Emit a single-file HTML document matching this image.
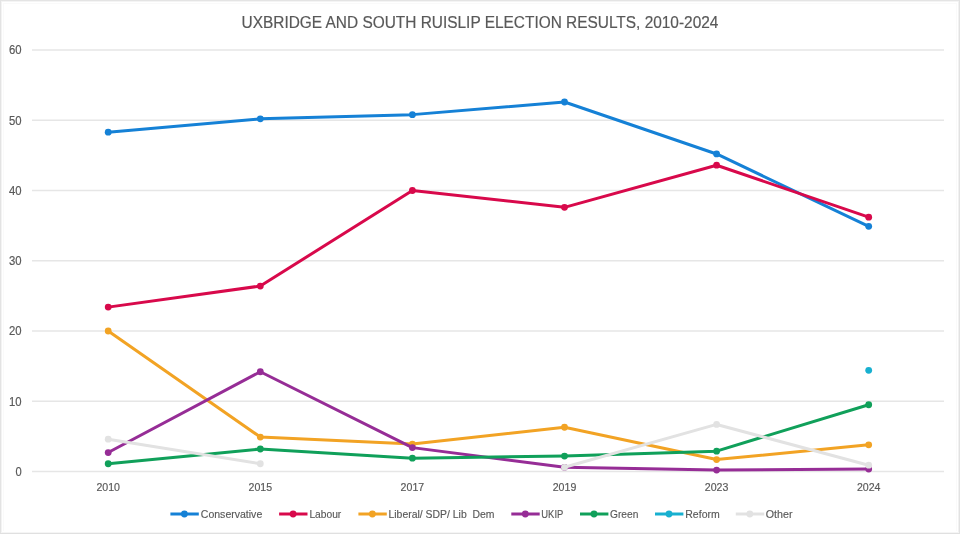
<!DOCTYPE html><html><head><meta charset="utf-8"><style>html,body{margin:0;padding:0;background:#fff;}svg{display:block;will-change:transform;}</style></head><body>
<svg width="960" height="534" viewBox="0 0 960 534">
<rect x="0" y="0" width="960" height="534" fill="#fff"/>
<rect x="3" y="3" width="954" height="1" fill="#FAFAFA"/><rect x="3" y="3" width="1" height="528" fill="#FAFAFA"/><rect x="956" y="3" width="1" height="528" fill="#FAFAFA"/>
<rect x="0" y="1" width="960" height="1" fill="#F4F4F4"/><rect x="1" y="0" width="1" height="534" fill="#F3F3F3"/><rect x="958" y="0" width="1" height="534" fill="#F1F1F1"/><rect x="0" y="532" width="960" height="1" fill="#F5F5F5"/>
<rect x="0" y="0" width="960" height="1" fill="#E4E4E4"/><rect x="0" y="0" width="1" height="534" fill="#E3E3E3"/><rect x="959" y="0" width="1" height="534" fill="#E2E2E2"/><rect x="0" y="533" width="960" height="1" fill="#E0E0E0"/>
<line x1="32" y1="471.50" x2="944" y2="471.50" stroke="#E6E6E6" stroke-width="1.5"/>
<line x1="32" y1="401.25" x2="944" y2="401.25" stroke="#E6E6E6" stroke-width="1.5"/>
<line x1="32" y1="331.00" x2="944" y2="331.00" stroke="#E6E6E6" stroke-width="1.5"/>
<line x1="32" y1="260.75" x2="944" y2="260.75" stroke="#E6E6E6" stroke-width="1.5"/>
<line x1="32" y1="190.50" x2="944" y2="190.50" stroke="#E6E6E6" stroke-width="1.5"/>
<line x1="32" y1="120.25" x2="944" y2="120.25" stroke="#E6E6E6" stroke-width="1.5"/>
<line x1="32" y1="50.00" x2="944" y2="50.00" stroke="#E6E6E6" stroke-width="1.5"/>
<text x="241.6" y="27.8" font-family='"Liberation Sans", sans-serif' font-size="17.2" fill="#595959" stroke="#595959" stroke-width="0.2" textLength="476.8" lengthAdjust="spacingAndGlyphs">UXBRIDGE AND SOUTH RUISLIP ELECTION RESULTS, 2010-2024</text>
<text x="15.40" y="475.80" font-family='"Liberation Sans", sans-serif' font-size="12.2" fill="#595959" stroke="#595959" stroke-width="0.18" textLength="6.2" lengthAdjust="spacingAndGlyphs">0</text>
<text x="9.00" y="405.55" font-family='"Liberation Sans", sans-serif' font-size="12.2" fill="#595959" stroke="#595959" stroke-width="0.18" textLength="12.6" lengthAdjust="spacingAndGlyphs">10</text>
<text x="9.00" y="335.30" font-family='"Liberation Sans", sans-serif' font-size="12.2" fill="#595959" stroke="#595959" stroke-width="0.18" textLength="12.6" lengthAdjust="spacingAndGlyphs">20</text>
<text x="9.00" y="265.05" font-family='"Liberation Sans", sans-serif' font-size="12.2" fill="#595959" stroke="#595959" stroke-width="0.18" textLength="12.6" lengthAdjust="spacingAndGlyphs">30</text>
<text x="9.00" y="194.80" font-family='"Liberation Sans", sans-serif' font-size="12.2" fill="#595959" stroke="#595959" stroke-width="0.18" textLength="12.6" lengthAdjust="spacingAndGlyphs">40</text>
<text x="9.00" y="124.55" font-family='"Liberation Sans", sans-serif' font-size="12.2" fill="#595959" stroke="#595959" stroke-width="0.18" textLength="12.6" lengthAdjust="spacingAndGlyphs">50</text>
<text x="9.00" y="54.30" font-family='"Liberation Sans", sans-serif' font-size="12.2" fill="#595959" stroke="#595959" stroke-width="0.18" textLength="12.6" lengthAdjust="spacingAndGlyphs">60</text>
<text x="96.40" y="491" font-family='"Liberation Sans", sans-serif' font-size="11.5" fill="#595959" stroke="#595959" stroke-width="0.18" textLength="23.6" lengthAdjust="spacingAndGlyphs">2010</text>
<text x="248.50" y="491" font-family='"Liberation Sans", sans-serif' font-size="11.5" fill="#595959" stroke="#595959" stroke-width="0.18" textLength="23.6" lengthAdjust="spacingAndGlyphs">2015</text>
<text x="400.60" y="491" font-family='"Liberation Sans", sans-serif' font-size="11.5" fill="#595959" stroke="#595959" stroke-width="0.18" textLength="23.6" lengthAdjust="spacingAndGlyphs">2017</text>
<text x="552.70" y="491" font-family='"Liberation Sans", sans-serif' font-size="11.5" fill="#595959" stroke="#595959" stroke-width="0.18" textLength="23.6" lengthAdjust="spacingAndGlyphs">2019</text>
<text x="704.80" y="491" font-family='"Liberation Sans", sans-serif' font-size="11.5" fill="#595959" stroke="#595959" stroke-width="0.18" textLength="23.6" lengthAdjust="spacingAndGlyphs">2023</text>
<text x="856.90" y="491" font-family='"Liberation Sans", sans-serif' font-size="11.5" fill="#595959" stroke="#595959" stroke-width="0.18" textLength="23.6" lengthAdjust="spacingAndGlyphs">2024</text>
<g>
<path d="M108.20,132.19 L260.30,118.84 L412.40,114.63 L564.50,101.98 L716.60,153.97 L868.70,226.33" fill="none" stroke="#1581D6" stroke-width="3.0" stroke-linejoin="round" stroke-linecap="round"/>
<circle cx="108.20" cy="132.19" r="3.4" fill="#1581D6"/>
<circle cx="260.30" cy="118.84" r="3.4" fill="#1581D6"/>
<circle cx="412.40" cy="114.63" r="3.4" fill="#1581D6"/>
<circle cx="564.50" cy="101.98" r="3.4" fill="#1581D6"/>
<circle cx="716.60" cy="153.97" r="3.4" fill="#1581D6"/>
<circle cx="868.70" cy="226.33" r="3.4" fill="#1581D6"/>
</g>
<g>
<path d="M108.20,307.12 L260.30,286.04 L412.40,190.50 L564.50,207.36 L716.60,165.21 L868.70,217.19" fill="none" stroke="#D8094B" stroke-width="3.0" stroke-linejoin="round" stroke-linecap="round"/>
<circle cx="108.20" cy="307.12" r="3.4" fill="#D8094B"/>
<circle cx="260.30" cy="286.04" r="3.4" fill="#D8094B"/>
<circle cx="412.40" cy="190.50" r="3.4" fill="#D8094B"/>
<circle cx="564.50" cy="207.36" r="3.4" fill="#D8094B"/>
<circle cx="716.60" cy="165.21" r="3.4" fill="#D8094B"/>
<circle cx="868.70" cy="217.19" r="3.4" fill="#D8094B"/>
</g>
<g>
<path d="M108.20,331.00 L260.30,437.08 L412.40,444.10 L564.50,427.24 L716.60,459.56 L868.70,444.81" fill="none" stroke="#F2A324" stroke-width="3.0" stroke-linejoin="round" stroke-linecap="round"/>
<circle cx="108.20" cy="331.00" r="3.4" fill="#F2A324"/>
<circle cx="260.30" cy="437.08" r="3.4" fill="#F2A324"/>
<circle cx="412.40" cy="444.10" r="3.4" fill="#F2A324"/>
<circle cx="564.50" cy="427.24" r="3.4" fill="#F2A324"/>
<circle cx="716.60" cy="459.56" r="3.4" fill="#F2A324"/>
<circle cx="868.70" cy="444.81" r="3.4" fill="#F2A324"/>
</g>
<g>
<path d="M108.20,452.53 L260.30,371.75 L412.40,447.62 L564.50,467.29 L716.60,470.10 L868.70,469.04" fill="none" stroke="#962D96" stroke-width="3.0" stroke-linejoin="round" stroke-linecap="round"/>
<circle cx="108.20" cy="452.53" r="3.4" fill="#962D96"/>
<circle cx="260.30" cy="371.75" r="3.4" fill="#962D96"/>
<circle cx="412.40" cy="447.62" r="3.4" fill="#962D96"/>
<circle cx="564.50" cy="467.29" r="3.4" fill="#962D96"/>
<circle cx="716.60" cy="470.10" r="3.4" fill="#962D96"/>
<circle cx="868.70" cy="469.04" r="3.4" fill="#962D96"/>
</g>
<g>
<path d="M108.20,463.77 L260.30,449.02 L412.40,458.15 L564.50,456.05 L716.60,451.13 L868.70,404.76" fill="none" stroke="#10A05A" stroke-width="3.0" stroke-linejoin="round" stroke-linecap="round"/>
<circle cx="108.20" cy="463.77" r="3.4" fill="#10A05A"/>
<circle cx="260.30" cy="449.02" r="3.4" fill="#10A05A"/>
<circle cx="412.40" cy="458.15" r="3.4" fill="#10A05A"/>
<circle cx="564.50" cy="456.05" r="3.4" fill="#10A05A"/>
<circle cx="716.60" cy="451.13" r="3.4" fill="#10A05A"/>
<circle cx="868.70" cy="404.76" r="3.4" fill="#10A05A"/>
</g>
<g>
<circle cx="868.70" cy="370.34" r="3.4" fill="#18B0D0"/>
</g>
<g>
<path d="M108.20,439.19 L260.30,463.77" fill="none" stroke="#E2E2E2" stroke-width="3.0" stroke-linejoin="round" stroke-linecap="round"/>
<path d="M564.50,467.29 L716.60,424.43 L868.70,465.18" fill="none" stroke="#E2E2E2" stroke-width="3.0" stroke-linejoin="round" stroke-linecap="round"/>
<circle cx="108.20" cy="439.19" r="3.4" fill="#E2E2E2"/>
<circle cx="260.30" cy="463.77" r="3.4" fill="#E2E2E2"/>
<circle cx="564.50" cy="467.29" r="3.4" fill="#E2E2E2"/>
<circle cx="716.60" cy="424.43" r="3.4" fill="#E2E2E2"/>
<circle cx="868.70" cy="465.18" r="3.4" fill="#E2E2E2"/>
</g>
<line x1="170.40" y1="514" x2="198.80" y2="514" stroke="#1581D6" stroke-width="3.0"/>
<circle cx="184.40" cy="514" r="3.4" fill="#1581D6"/>
<text x="200.80" y="517.80" font-family='"Liberation Sans", sans-serif' font-size="11" fill="#595959" stroke="#595959" stroke-width="0.15" textLength="61.45" lengthAdjust="spacingAndGlyphs" xml:space="preserve">Conservative</text>
<line x1="279.10" y1="514" x2="307.50" y2="514" stroke="#D8094B" stroke-width="3.0"/>
<circle cx="293.10" cy="514" r="3.4" fill="#D8094B"/>
<text x="309.40" y="517.80" font-family='"Liberation Sans", sans-serif' font-size="11" fill="#595959" stroke="#595959" stroke-width="0.15" textLength="31.85" lengthAdjust="spacingAndGlyphs" xml:space="preserve">Labour</text>
<line x1="358.40" y1="514" x2="386.80" y2="514" stroke="#F2A324" stroke-width="3.0"/>
<circle cx="372.40" cy="514" r="3.4" fill="#F2A324"/>
<text x="388.50" y="517.80" font-family='"Liberation Sans", sans-serif' font-size="11" fill="#595959" stroke="#595959" stroke-width="0.15" textLength="106.00" lengthAdjust="spacingAndGlyphs" xml:space="preserve">Liberal/ SDP/ Lib&#160; Dem</text>
<line x1="511.30" y1="514" x2="539.70" y2="514" stroke="#962D96" stroke-width="3.0"/>
<circle cx="525.30" cy="514" r="3.4" fill="#962D96"/>
<text x="541.30" y="517.80" font-family='"Liberation Sans", sans-serif' font-size="11" fill="#595959" stroke="#595959" stroke-width="0.15" textLength="22.00" lengthAdjust="spacingAndGlyphs" xml:space="preserve">UKIP</text>
<line x1="580.00" y1="514" x2="608.40" y2="514" stroke="#10A05A" stroke-width="3.0"/>
<circle cx="594.00" cy="514" r="3.4" fill="#10A05A"/>
<text x="610.00" y="517.80" font-family='"Liberation Sans", sans-serif' font-size="11" fill="#595959" stroke="#595959" stroke-width="0.15" textLength="28.30" lengthAdjust="spacingAndGlyphs" xml:space="preserve">Green</text>
<line x1="655.00" y1="514" x2="683.40" y2="514" stroke="#18B0D0" stroke-width="3.0"/>
<circle cx="669.00" cy="514" r="3.4" fill="#18B0D0"/>
<text x="685.30" y="517.80" font-family='"Liberation Sans", sans-serif' font-size="11" fill="#595959" stroke="#595959" stroke-width="0.15" textLength="34.40" lengthAdjust="spacingAndGlyphs" xml:space="preserve">Reform</text>
<line x1="735.80" y1="514" x2="764.20" y2="514" stroke="#E2E2E2" stroke-width="3.0"/>
<circle cx="749.80" cy="514" r="3.4" fill="#E2E2E2"/>
<text x="765.80" y="517.80" font-family='"Liberation Sans", sans-serif' font-size="11" fill="#595959" stroke="#595959" stroke-width="0.15" textLength="26.70" lengthAdjust="spacingAndGlyphs" xml:space="preserve">Other</text>
</svg></body></html>
